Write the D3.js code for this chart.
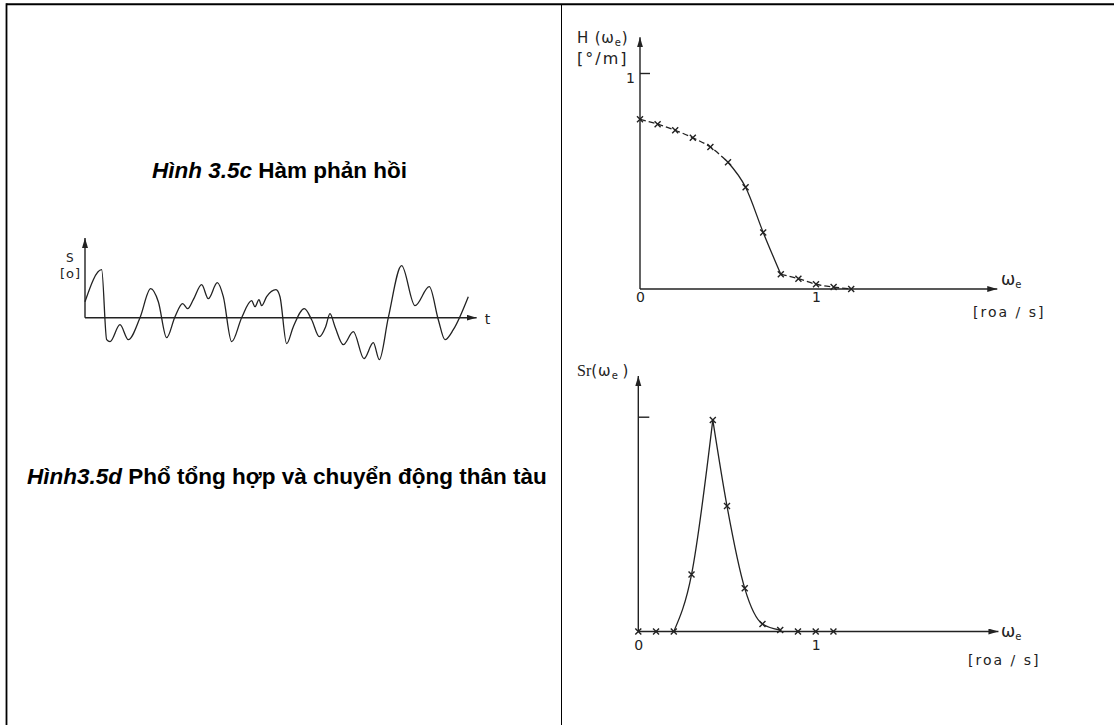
<!DOCTYPE html>
<html>
<head>
<meta charset="utf-8">
<script src="https://cdn.jsdelivr.net/npm/d3@7"></script>
<style>
  body { margin: 0; background: #fff; }
  svg { display: block; }
</style>
</head>
<body>
<svg id="fig" width="1114" height="725"></svg>
<script>
// ---- Data -------------------------------------------------------------
// Response amplitude operator H(ωe) [°/m]
const hOmega  = [0, 0.1, 0.2, 0.3, 0.4, 0.5, 0.6, 0.7, 0.8, 0.9, 1.0, 1.1, 1.2];
const hValues = [0.786, 0.763, 0.735, 0.700, 0.657, 0.587, 0.471, 0.262, 0.068, 0.048, 0.022, 0.009, 0.0];

// Response spectrum Sr(ωe)
const srOmega  = [0, 0.1, 0.2, 0.3, 0.42, 0.5, 0.6, 0.7, 0.8, 0.9, 1.0, 1.1];
const srValues = [0, 0, 0, 0.265, 0.985, 0.584, 0.201, 0.035, 0.007, 0, 0, 0];

// Roll motion record s(t)
const sTime = [0, 5, 6.5, 7.5, 10.5, 13, 16.5, 19.7, 22, 24.5,
               27, 29.3, 30.8, 32.5, 35, 37, 39.7, 41.5, 44, 47,
               50, 51, 52.2, 53, 54.5, 57.3, 58.5, 60.5, 62.5, 65.8,
               68, 70.3, 72.2, 73.5, 75, 77.5, 80.5, 83.7, 86.5, 88.3,
               91, 95, 99, 103.3, 106, 108, 110.5, 115];
const sValues = [1.6, 4.8, -2.2, -2.4, -0.7, -2.2, 0, 2.9, 1.6, -2.0,
                 0.1, 1.4, 0.9, 1.8, 3.3, 1.9, 3.5, 2.1, -2.4, 0,
                 1.7, 1.1, 1.8, 1.2, 2.1, 2.8, 2.1, -2.6, -0.9, 0.9,
                 -0.2, -1.9, -0.9, 0.4, -0.9, -2.7, -1.4, -4.1, -2.5, -4.2,
                 0, 5.2, 1.2, 3.1, -0.2, -2.2, -1.2, 2.1];

// Tick values
const hTicksX  = [0, 1];
const hTicksY  = [1];
const srTicksX = [0, 1];
const srTicksY = [1];

// Captions
const caption1 = ["Hình 3.5c", " Hàm phản hồi"];
const caption2 = ["Hình3.5d", " Phổ tổng hợp và chuyển động thân tàu"];

// ---- Setup ------------------------------------------------------------
const svg = d3.select("#fig");
const ink = "#222";
const chartFont = "DejaVu Sans, sans-serif";
const lw = 1.4;

const defs = svg.append("defs");
defs.append("marker")
  .attr("id", "arrow")
  .attr("markerUnits", "userSpaceOnUse")
  .attr("markerWidth", 11).attr("markerHeight", 7)
  .attr("refX", 10).attr("refY", 3)
  .attr("orient", "auto")
  .append("path").attr("d", "M0,0 L10,3 L0,6 Z").attr("fill", ink);

// Table frame
svg.append("line").attr("x1", 6.5).attr("x2", 1114).attr("y1", 4.3).attr("y2", 4.3)
  .attr("stroke", "#000").attr("stroke-width", 2);
svg.append("line").attr("x1", 6.5).attr("x2", 6.5).attr("y1", 3.3).attr("y2", 725)
  .attr("stroke", "#000").attr("stroke-width", 1.8);
svg.append("line").attr("x1", 561.5).attr("x2", 561.5).attr("y1", 4).attr("y2", 725)
  .attr("stroke", "#000").attr("stroke-width", 1);

// Cross markers
function crosses(g, xs, ys, x, y, r) {
  g.selectAll(null).data(xs.map((d, i) => [d, ys[i]])).enter()
    .append("path")
    .attr("d", d => {
      const cx = x(d[0]), cy = y(d[1]);
      return `M${cx - r},${cy - r}L${cx + r},${cy + r}M${cx - r},${cy + r}L${cx + r},${cy - r}`;
    })
    .attr("stroke", ink).attr("stroke-width", 1.4).attr("fill", "none");
}

function styleAxis(a) {
  a.select(".domain").remove();
  a.selectAll("line").attr("stroke", ink).attr("stroke-width", lw);
  a.selectAll("text").attr("fill", ink).attr("font-family", chartFont).attr("font-size", 14);
}

// ---- H(ωe) chart ------------------------------------------------------
{
  const g = svg.append("g");
  const x = d3.scaleLinear().domain([0, 1]).range([640, 816]);
  const y = d3.scaleLinear().domain([0, 1]).range([289, 73]);

  g.append("line").attr("x1", x(0)).attr("x2", x(2.03)).attr("y1", y(0)).attr("y2", y(0))
    .attr("stroke", ink).attr("stroke-width", lw).attr("marker-end", "url(#arrow)");
  g.append("line").attr("x1", x(0)).attr("x2", x(0)).attr("y1", y(0)).attr("y2", y(1.165))
    .attr("stroke", ink).attr("stroke-width", lw).attr("marker-end", "url(#arrow)");

  const ax = g.append("g").attr("transform", `translate(0,${y(0)})`)
    .call(d3.axisBottom(x).tickValues(hTicksX).tickSize(0).tickPadding(3).tickFormat(d3.format("d")));
  const ay = g.append("g").attr("transform", `translate(${x(0)},0)`)
    .call(d3.axisLeft(y).tickValues(hTicksY).tickSizeInner(-10).tickSizeOuter(0).tickPadding(5).tickFormat(d3.format("d")));
  styleAxis(ax);
  styleAxis(ay);
  ay.selectAll("text").attr("dy", "0.7em");

  // curve: dashed on the flat parts, solid through the drop
  const line = d3.line().x(d => x(d[0])).y(d => y(d[1])).curve(d3.curveMonotoneX);
  const pts = hOmega.map((d, i) => [d, hValues[i]]);
  const seg = (a, b) => pts.filter(p => p[0] >= a - 1e-9 && p[0] <= b + 1e-9);
  g.append("path").attr("d", line(seg(0, 0.5))).attr("fill", "none")
    .attr("stroke", ink).attr("stroke-width", 1.3).attr("stroke-dasharray", "6,3");
  g.append("path").attr("d", line(seg(0.5, 0.8))).attr("fill", "none")
    .attr("stroke", ink).attr("stroke-width", 1.3);
  g.append("path").attr("d", line(seg(0.8, 1.2))).attr("fill", "none")
    .attr("stroke", ink).attr("stroke-width", 1.3).attr("stroke-dasharray", "6,3");
  crosses(g, hOmega, hValues, x, y, 3);

  // labels
  const t1 = g.append("text").attr("x", 577).attr("y", 43)
    .attr("font-family", chartFont).attr("font-size", 15).attr("letter-spacing", 0.8).attr("fill", ink);
  t1.append("tspan").text("H (ω");
  t1.append("tspan").attr("font-size", 10).attr("dy", 3).text("e");
  t1.append("tspan").attr("dy", -3).text(")");
  g.append("text").attr("x", 577).attr("y", 64)
    .attr("font-family", chartFont).attr("font-size", 16).attr("letter-spacing", 2).attr("fill", ink).text("[°/m]");

  const t2 = g.append("text").attr("x", 1001).attr("y", 285)
    .attr("font-family", chartFont).attr("font-size", 17).attr("fill", ink);
  t2.append("tspan").text("ω");
  t2.append("tspan").attr("font-size", 10).attr("dy", 3).text("e");
  g.append("text").attr("x", 973).attr("y", 317)
    .attr("font-family", chartFont).attr("font-size", 14).attr("letter-spacing", 2).attr("fill", ink).text("[roa / s]");
}

// ---- Sr(ωe) chart -----------------------------------------------------
{
  const g = svg.append("g");
  const x = d3.scaleLinear().domain([0, 1]).range([638.3, 815.7]);
  const y = d3.scaleLinear().domain([0, 1]).range([631.5, 416.7]);

  g.append("line").attr("x1", x(0)).attr("x2", x(2.03)).attr("y1", y(0)).attr("y2", y(0))
    .attr("stroke", ink).attr("stroke-width", lw).attr("marker-end", "url(#arrow)");
  g.append("line").attr("x1", x(0)).attr("x2", x(0)).attr("y1", y(0)).attr("y2", y(1.19))
    .attr("stroke", ink).attr("stroke-width", lw).attr("marker-end", "url(#arrow)");

  const ax = g.append("g").attr("transform", `translate(0,${y(0)})`)
    .call(d3.axisBottom(x).tickValues(srTicksX).tickSize(0).tickPadding(9).tickFormat(d3.format("d")));
  const ay = g.append("g").attr("transform", `translate(${x(0)},0)`)
    .call(d3.axisLeft(y).tickValues(srTicksY).tickSizeInner(-11).tickSizeOuter(0).tickFormat(() => ""));
  styleAxis(ax);
  styleAxis(ay);

  const line = d3.line().x(d => x(d[0])).y(d => y(d[1])).curve(d3.curveMonotoneX);
  const pts = srOmega.map((d, i) => [d, srValues[i]]);
  const peak = d3.maxIndex(srValues);
  // rising and falling flanks meet in a sharp peak
  g.append("path").attr("d", line(pts.slice(2, peak + 1))).attr("fill", "none")
    .attr("stroke", ink).attr("stroke-width", 1.3);
  g.append("path").attr("d", line(pts.slice(peak, 9))).attr("fill", "none")
    .attr("stroke", ink).attr("stroke-width", 1.3);
  crosses(g, srOmega, srValues, x, y, 3);

  const t1 = g.append("text").attr("x", 577).attr("y", 376)
    .attr("font-size", 15).attr("fill", ink);
  t1.append("tspan").attr("font-family", "Liberation Serif, serif").attr("font-size", 16).text("Sr");
  t1.append("tspan").attr("font-family", chartFont).attr("letter-spacing", 1).text("(ω");
  t1.append("tspan").attr("font-family", chartFont).attr("font-size", 10).attr("dy", 3).text("e");
  t1.append("tspan").attr("font-family", chartFont).attr("dy", -3).text(" )");

  const t2 = g.append("text").attr("x", 1001).attr("y", 637)
    .attr("font-family", chartFont).attr("font-size", 17).attr("fill", ink);
  t2.append("tspan").text("ω");
  t2.append("tspan").attr("font-size", 10).attr("dy", 3).text("e");
  g.append("text").attr("x", 968).attr("y", 665)
    .attr("font-family", chartFont).attr("font-size", 14).attr("letter-spacing", 2).attr("fill", ink).text("[roa / s]");
}

// ---- s(t) record ------------------------------------------------------
{
  const g = svg.append("g");
  const x = d3.scaleLinear().domain([0, 115]).range([85, 468.3]);
  const y = d3.scaleLinear().domain([0, 1]).range([317.7, 307.7]);

  g.append("line").attr("x1", x(0)).attr("x2", x(117.5)).attr("y1", y(0)).attr("y2", y(0))
    .attr("stroke", ink).attr("stroke-width", lw).attr("marker-end", "url(#arrow)");
  g.append("line").attr("x1", x(0)).attr("x2", x(0)).attr("y1", y(0)).attr("y2", y(7.97))
    .attr("stroke", ink).attr("stroke-width", lw).attr("marker-end", "url(#arrow)");

  const line = d3.line().x(d => x(d)).y((d, i) => y(sValues[i])).curve(d3.curveMonotoneX);
  g.append("path").attr("d", line(sTime)).attr("fill", "none")
    .attr("stroke", ink).attr("stroke-width", 1.3);

  g.append("text").attr("x", x(117.5) + 8).attr("y", y(0) + 6)
    .attr("font-family", chartFont).attr("font-size", 14).attr("fill", ink).text("t");
  g.append("text").attr("x", 66).attr("y", 262)
    .attr("font-family", chartFont).attr("font-size", 12).attr("fill", ink).text("S");
  g.append("text").attr("x", 60).attr("y", 278)
    .attr("font-family", chartFont).attr("font-size", 13).attr("letter-spacing", 1).attr("fill", ink).text("[o]");
}

// ---- Captions ---------------------------------------------------------
function caption(parts, xPos, yPos) {
  const t = svg.append("text").attr("x", xPos).attr("y", yPos)
    .attr("font-family", "Liberation Sans, Arial, sans-serif")
    .attr("font-weight", "bold").attr("font-size", 22.5).attr("fill", "#000");
  t.append("tspan").attr("font-style", "italic").text(parts[0]);
  t.append("tspan").text(parts[1]);
}
caption(caption1, 152, 178);
caption(caption2, 27, 484);
</script>
</body>
</html>
